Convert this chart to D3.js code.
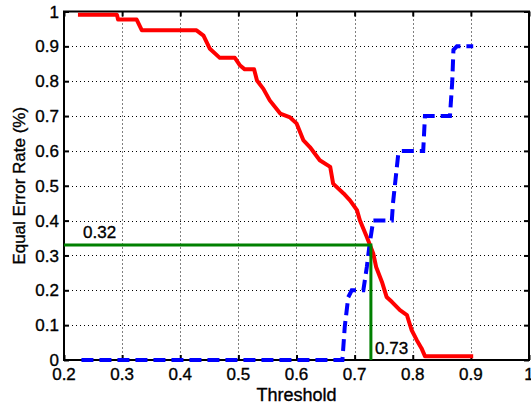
<!DOCTYPE html>
<html>
<head>
<meta charset="utf-8">
<script src="https://cdn.jsdelivr.net/npm/d3@7"></script>
<style>
  body { margin: 0; background: #fff; }
  svg { display: block; }
  text { font-family: "Liberation Sans", Arial, Helvetica, sans-serif; fill: #000; stroke: #000; stroke-width: 0.35px; }
</style>
</head>
<body>
<div id="chart"></div>
<script>
// decreasing curve (red, solid)
var redX = [0.224, 0.291, 0.293, 0.325, 0.334, 0.428, 0.440, 0.451, 0.468, 0.494, 0.503, 0.511,
  0.527, 0.532, 0.543, 0.554, 0.572, 0.589, 0.600, 0.612, 0.623, 0.640, 0.658, 0.663, 0.681,
  0.692, 0.704, 0.709, 0.721, 0.732, 0.737, 0.747, 0.755, 0.764, 0.778, 0.790, 0.798, 0.807,
  0.815, 0.821, 0.904];
var redY = [0.991, 0.991, 0.977, 0.977, 0.946, 0.946, 0.931, 0.893, 0.867, 0.867, 0.845, 0.834,
  0.834, 0.802, 0.778, 0.745, 0.707, 0.696, 0.679, 0.630, 0.611, 0.573, 0.554, 0.506, 0.478,
  0.458, 0.430, 0.401, 0.353, 0.306, 0.267, 0.224, 0.181, 0.167, 0.143, 0.129, 0.086, 0.057,
  0.034, 0.011, 0.011];

// increasing curve (blue, dashed)
var blueX = [0.230, 0.679, 0.683, 0.689, 0.695, 0.715, 0.721, 0.726, 0.732, 0.764, 0.766, 0.775,
  0.781, 0.818, 0.821, 0.864, 0.868, 0.870, 0.876, 0.904];
var blueY = [0, 0, 0.095, 0.18, 0.2, 0.2, 0.267, 0.335, 0.4, 0.4, 0.45, 0.59,
  0.6, 0.6, 0.7, 0.7, 0.8, 0.89, 0.9, 0.9];

// equal error point
var eerX = 0.728, eerY = 0.33;
var eerLabels = ["0.32", "0.73"];

var xTicks = [0.2, 0.3, 0.4, 0.5, 0.6, 0.7, 0.8, 0.9, 1];
var yTicks = [0, 0.1, 0.2, 0.3, 0.4, 0.5, 0.6, 0.7, 0.8, 0.9, 1];

(function drawChart() {

var width = 531, height = 406;
var m = { left: 64, right: 529, top: 11.5, bottom: 360 };

var svg = d3.select("#chart").append("svg")
  .attr("width", width)
  .attr("height", height);

var x = d3.scaleLinear().domain([0.2, 1]).range([m.left, m.right]);
var y = d3.scaleLinear().domain([0, 1]).range([m.bottom, m.top]);

// grid (dotted)
var grid = svg.append("g");
grid.selectAll(".gx").data(xTicks.slice(1, -1)).enter().append("line")
  .attr("x1", function(d) { return Math.round(x(d)) + 0.5; })
  .attr("x2", function(d) { return Math.round(x(d)) + 0.5; })
  .attr("y1", m.top).attr("y2", m.bottom)
  .attr("stroke", "#000").attr("stroke-width", 1).attr("stroke-dasharray", "1,3");
grid.selectAll(".gy").data(yTicks.slice(1, -1)).enter().append("line")
  .attr("y1", function(d) { return Math.round(y(d)) + 0.5; })
  .attr("y2", function(d) { return Math.round(y(d)) + 0.5; })
  .attr("x1", m.left).attr("x2", m.right)
  .attr("stroke", "#000").attr("stroke-width", 1).attr("stroke-dasharray", "1,3");

// axes with inward ticks
var tickLen = 5;
var xAxisB = d3.axisBottom(x).tickValues(xTicks).tickSize(-tickLen).tickFormat("");
var xAxisT = d3.axisTop(x).tickValues(xTicks).tickSize(-tickLen).tickFormat("");
var yAxisL = d3.axisLeft(y).tickValues(yTicks).tickSize(-tickLen).tickFormat("");
var yAxisR = d3.axisRight(y).tickValues(yTicks).tickSize(-tickLen).tickFormat("");

[[xAxisB, "translate(0," + m.bottom + ")"], [xAxisT, "translate(0," + m.top + ")"],
 [yAxisL, "translate(" + m.left + ",0)"], [yAxisR, "translate(" + m.right + ",0)"]].forEach(function(a) {
  var g = svg.append("g").attr("transform", a[1]).call(a[0]);
  g.select(".domain").remove();
  g.selectAll(".tick line").attr("stroke", "#000").attr("stroke-width", 2);
});

// frame
svg.append("rect")
  .attr("x", m.left).attr("y", m.top)
  .attr("width", m.right - m.left).attr("height", m.bottom - m.top)
  .attr("fill", "none").attr("stroke", "#000").attr("stroke-width", 2);

// tick labels
svg.append("g").selectAll("text").data(xTicks).enter().append("text")
  .attr("x", function(d) { return x(d); })
  .attr("y", 380)
  .attr("text-anchor", "middle")
  .style("font-size", "17px")
  .text(function(d) { return d3.format("")(d); });

svg.append("g").selectAll("text").data(yTicks).enter().append("text")
  .attr("x", 59)
  .attr("y", function(d) { return y(d); })
  .attr("dy", "0.36em")
  .attr("text-anchor", "end")
  .style("font-size", "17px")
  .text(function(d) { return d3.format("")(d); });

// axis titles
svg.append("text")
  .attr("x", (m.left + m.right) / 2)
  .attr("y", 401)
  .attr("text-anchor", "middle")
  .style("font-size", "18px")
  .text("Threshold");

svg.append("text")
  .attr("transform", "translate(25," + ((m.top + m.bottom) / 2) + ") rotate(-90)")
  .attr("text-anchor", "middle")
  .style("font-size", "17px")
  .text("Equal Error Rate (%)");

// curves
var line = d3.line()
  .x(function(d) { return x(d[0]); })
  .y(function(d) { return y(d[1]); });

svg.append("path")
  .datum(d3.zip(redX, redY))
  .attr("d", line)
  .attr("fill", "none")
  .attr("stroke", "#ff0000")
  .attr("stroke-width", 4)
  .attr("stroke-linejoin", "round");

svg.append("path")
  .datum(d3.zip(blueX, blueY))
  .attr("d", line)
  .attr("fill", "none")
  .attr("stroke", "#0000ff")
  .attr("stroke-width", 4)
  .attr("stroke-dasharray", "12,6");

// equal error markers
svg.append("path")
  .datum([[0.2, eerY], [eerX, eerY], [eerX, 0]])
  .attr("d", line)
  .attr("fill", "none")
  .attr("stroke", "#008000")
  .attr("stroke-width", 3);

svg.append("text")
  .attr("x", 83).attr("y", 238)
  .style("font-size", "17px")
  .text(eerLabels[0]);

svg.append("text")
  .attr("x", 375).attr("y", 354)
  .style("font-size", "17px")
  .text(eerLabels[1]);

}());
</script>
</body>
</html>
